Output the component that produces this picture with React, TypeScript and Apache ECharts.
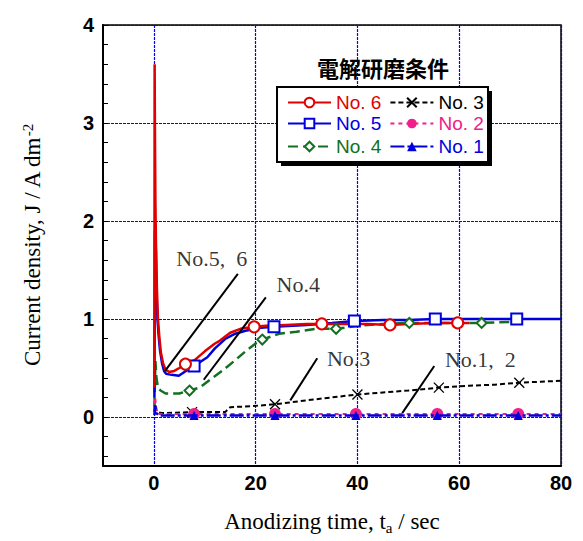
import React, { useEffect, useRef } from 'react';
import * as echarts from 'echarts';

// ---- data (t [s], J [A/dm2]) ----
const no6Line: number[][] = [
  [0.1, 0.3], [0.15, 3.6], [0.2, 3.0], [0.3, 2.2], [0.4, 1.8], [0.6, 1.3], [0.8, 1.0], [1.1, 0.8],
  [1.4, 0.65], [1.8, 0.55], [2.3, 0.48], [3.0, 0.46], [4.0, 0.47], [5.0, 0.5], [8, 0.58],
  [10, 0.67], [12, 0.75], [13, 0.78], [15, 0.86], [17, 0.9], [22, 0.93], [26, 0.94],
  [30, 0.95], [38, 0.95], [42, 0.95], [50, 0.95], [55, 0.96], [62, 0.96],
];
const no6Marks: number[][] = [[6.2, 0.54], [19.7, 0.92], [33, 0.95], [46.4, 0.94], [59.7, 0.96]];

const no5Line: number[][] = [
  [0.1, 0.2], [0.2, 1.9], [0.3, 1.45], [0.4, 1.7], [0.5, 1.3], [0.7, 1.0], [0.9, 0.85], [1.2, 0.68],
  [1.6, 0.55], [2.0, 0.47], [2.4, 0.44], [3.5, 0.43], [4.9, 0.42], [6.0, 0.46], [10.5, 0.61],
  [12, 0.7], [14.1, 0.8], [16, 0.85], [18, 0.88], [21, 0.91], [30, 0.94], [35, 0.96],
  [45, 0.99], [50, 0.99], [62, 1.0], [68, 1.0], [75, 1.0], [80, 1.0],
];
const no5Marks: number[][] = [[7.9, 0.52], [23.6, 0.92], [39.4, 0.98], [55.3, 1.0], [71.3, 1.0]];

const no4Line: number[][] = [
  [0.1, 0.1], [0.3, 0.57], [0.5, 0.4], [0.8, 0.3], [1.3, 0.27], [2.3, 0.24], [5, 0.24],
  [9, 0.3], [11, 0.38], [13.4, 0.47], [16, 0.58], [18, 0.67], [20, 0.75], [24.6, 0.85],
  [28, 0.87], [32, 0.9], [40, 0.93], [45, 0.95], [55, 0.96], [60, 0.96], [70, 0.97], [71.5, 0.97],
];
const no4Marks: number[][] = [[7, 0.27], [21.3, 0.79], [35.8, 0.9], [50.2, 0.96], [64.4, 0.96]];

const no3Line: number[][] = [
  [0.1, 0.05], [0.2, 0.16], [0.35, 0.1], [0.6, 0.05], [1.5, 0.04], [14, 0.05], [15, 0.1],
  [19, 0.11], [30, 0.17], [35, 0.2], [45, 0.25], [50, 0.27], [62, 0.32], [67, 0.33],
  [76, 0.36], [80, 0.37],
];
const no3Marks: number[][] = [[7.5, 0.05], [23.8, 0.13], [40, 0.23], [56, 0.3], [71.8, 0.35]];

const no2Line: number[][] = [
  [0.1, 0.05], [0.25, 0.2], [0.5, 0.08], [0.9, 0.03], [15, 0.03], [30, 0.03], [48, 0.03],
  [64, 0.03], [80, 0.03],
];
const no2Marks: number[][] = [[7.9, 0.03], [23.8, 0.03], [39.7, 0.03], [55.7, 0.03], [71.6, 0.03]];

const no1Line: number[][] = [
  [0.1, 0.02], [0.25, 0.12], [0.5, 0.04], [1.0, 0.015], [15, 0.015], [30, 0.015], [48, 0.015],
  [64, 0.015], [80, 0.015],
];
const no1Marks: number[][] = [[7.9, 0.015], [23.8, 0.015], [39.7, 0.015], [55.7, 0.015], [71.6, 0.015]];

const xLabelValues = [0, 20, 40, 60, 80];
const yLabelValues = [0, 1, 2, 3, 4];
const yTickValues = [
  -0.4, -0.2, 0, 0.2, 0.4, 0.6, 0.8, 1, 1.2, 1.4, 1.6, 1.8, 2, 2.2, 2.4, 2.6, 2.8, 3, 3.2,
  3.4, 3.6, 3.8, 4,
];

// legend rows (two entries each)
const legendRows: string[][] = [
  ['No. 6', 'No. 3'],
  ['No. 5', 'No. 2'],
  ['No. 4', 'No. 1'],
];

// annotations: [t, J, text]
const annotTexts: (number | string)[][] = [
  [4.3, 1.62, 'No.5,\u00a0\u00a06'],
  [24.0, 1.35, 'No.4'],
  [33.9, 0.6, 'No.3'],
  [57.1, 0.59, 'No.1,\u00a0\u00a02'],
];
const annotLines: number[][][] = [
  [[2.2, 0.47], [16.5, 1.46]],
  [[9.8, 0.38], [22.0, 1.22]],
  [[26.8, 0.17], [32.1, 0.6]],
  [[48.8, 0.04], [55.1, 0.52]],
];

const RED = '#e00000';
const BLUE = '#0000dd';
const GREEN = '#137020';
const BLACK = '#000000';
const PINK = '#f0208a';
const GRIDBLUE = '#0000ff';
const CLEAR = 'rgba(0,0,0,0)';

const nameColor: Record<string, string> = {
  'No. 6': RED, 'No. 5': BLUE, 'No. 4': GREEN, 'No. 3': BLACK, 'No. 2': PINK, 'No. 1': BLUE,
};

function build(line: number[][], marks: number[][]) {
  const pts: any[] = [
    ...line.map((p) => ({ value: p, symbol: 'none' })),
    ...marks.map((p) => ({ value: p })),
  ];
  pts.sort((a, b) => a.value[0] - b.value[0]);
  return pts;
}

const CROSS = 'path://M0,0L10,10M10,0L0,10';

export default function App() {
  const ref = useRef<HTMLDivElement>(null);
  useEffect(() => {
    const chart = echarts.init(ref.current!, null, { renderer: 'svg' });
    const tickFont = { fontFamily: 'Liberation Sans', fontWeight: 'bold' as const, fontSize: 20, color: '#000' };
    const legendTops = [93, 114, 137];
    const hiddenAxisParts = {
      axisLine: { show: false }, axisTick: { show: false }, axisLabel: { show: false },
    };
    const gridStyle = { color: [CLEAR, GRIDBLUE], type: [3, 1], width: 1.2 };
    const option: any = {
      animation: false,
      grid: { left: 103, right: 22, top: 25, bottom: 75, show: true, borderColor: '#000', borderWidth: 1.5, backgroundColor: '#fff' },
      xAxis: [
        {
          type: 'value', min: -10, max: 80,
          axisLine: { show: true, onZero: false, lineStyle: { color: '#000', width: 2 } },
          axisTick: { show: false },
          splitLine: { show: false },
          axisLabel: { ...tickFont, margin: 7, customValues: xLabelValues },
          name: 'Anodizing time, t{sub|a} / sec',
          nameLocation: 'middle', nameGap: 42,
          nameTextStyle: {
            fontFamily: 'Liberation Serif', fontSize: 23, color: '#000',
            rich: { sub: { fontFamily: 'Liberation Serif', fontSize: 15, verticalAlign: 'bottom', padding: [12, 0, 0, 0] } },
          },
          z: 5,
        },
        {
          type: 'value', min: -10, max: 80, interval: 10, position: 'bottom',
          ...hiddenAxisParts,
          splitLine: { show: true, lineStyle: gridStyle },
        },
      ],
      yAxis: [
        {
          type: 'value', min: -0.5, max: 4,
          axisLine: { show: true, onZero: false, lineStyle: { color: '#000', width: 2 } },
          axisTick: { show: true, inside: true, length: 5, lineStyle: { color: '#000', width: 1 }, customValues: yTickValues },
          splitLine: { show: false },
          axisLabel: { ...tickFont, margin: 9, customValues: yLabelValues },
          name: 'Current density, J / A dm{sup|-2}',
          nameLocation: 'middle', nameGap: 58,
          nameTextStyle: {
            fontFamily: 'Liberation Serif', fontSize: 23, color: '#000',
            rich: { sup: { fontFamily: 'Liberation Serif', fontSize: 15, verticalAlign: 'top', padding: [0, 0, 10, 0] } },
          },
          z: 5,
        },
        {
          type: 'value', min: -0.5, max: 4, interval: 0.5, position: 'left',
          ...hiddenAxisParts,
          splitLine: { show: true, lineStyle: gridStyle },
        },
      ],
      legend: legendRows.map((row, i) => ({
        left: 287, top: legendTops[i],
        orient: 'horizontal',
        padding: 0,
        itemWidth: 43, itemHeight: 12, itemGap: 8,
        textStyle: { fontFamily: 'Liberation Sans', fontSize: 19 },
        selectedMode: false,
        data: row.map((n) => ({ name: n, textStyle: { color: nameColor[n] } })),
        z: 10,
      })),
      graphic: [
        {
          type: 'rect', z: 8, silent: true,
          shape: { x: 281, y: 91, width: 211, height: 75 },
          style: { fill: '#000' },
        },
        {
          type: 'rect', z: 8, silent: true,
          shape: { x: 277, y: 87, width: 211, height: 75 },
          style: { fill: '#fff', stroke: '#000', lineWidth: 2 },
        },
        {
          type: 'text', x: 383, y: 67, z: 20,
          style: { text: '電解研磨条件', font: 'bold 22px "Noto Sans CJK JP"', fill: '#000', align: 'center', verticalAlign: 'middle' },
        },
      ],
      series: [
        {
          type: 'line', name: 'No. 3', data: build(no3Line, no3Marks), z: 3,
          symbol: CROSS, symbolSize: 10, showAllSymbol: true,
          itemStyle: { color: CLEAR, borderColor: BLACK, borderWidth: 1.3 },
          lineStyle: { color: BLACK, width: 2, type: [5, 3] },
        },
        {
          type: 'line', name: 'No. 4', data: build(no4Line, no4Marks), z: 3,
          symbol: 'emptyDiamond', symbolSize: 10, showAllSymbol: true,
          itemStyle: { color: GREEN, borderWidth: 1.3 },
          lineStyle: { color: GREEN, width: 2.5, type: [10, 5] },
        },
        {
          type: 'line', name: 'No. 5', data: build(no5Line, no5Marks), z: 3,
          symbol: 'emptyRect', symbolSize: 11, showAllSymbol: true,
          itemStyle: { color: BLUE, borderWidth: 1.3 },
          lineStyle: { color: BLUE, width: 2.5 },
        },
        {
          type: 'line', name: 'No. 6', data: build(no6Line, no6Marks), z: 3,
          symbol: 'emptyCircle', symbolSize: 11, showAllSymbol: true,
          itemStyle: { color: RED, borderWidth: 1.3 },
          lineStyle: { color: RED, width: 2.5 },
        },
        {
          type: 'line', name: 'No. 2', data: build(no2Line, no2Marks), z: 3,
          symbol: 'circle', symbolSize: 12, showAllSymbol: true,
          itemStyle: { color: PINK },
          lineStyle: { color: PINK, width: 2, type: [4, 4] },
        },
        {
          type: 'line', name: 'No. 1', data: build(no1Line, no1Marks), z: 4,
          symbol: 'triangle', symbolSize: 9, showAllSymbol: true,
          itemStyle: { color: BLUE },
          lineStyle: { color: BLUE, width: 2.5, type: [14, 3, 3, 3] },
        },
        {
          type: 'scatter', name: 'annot', z: 6, silent: true, symbolSize: 1,
          itemStyle: { color: CLEAR },
          data: annotTexts,
          label: {
            show: true, position: 'right', distance: 0,
            formatter: (p: any) => p.data[2],
            fontFamily: 'Liberation Serif', fontSize: 22, color: '#000',
          },
          markLine: {
            silent: true, symbol: ['none', 'none'], label: { show: false },
            lineStyle: { color: '#000', type: 'solid', width: 2 },
            data: annotLines.map((l) => [{ coord: l[0] }, { coord: l[1] }]),
          },
        },
      ],
    };
    chart.setOption(option);
    return () => chart.dispose();
  }, []);
  return <div ref={ref} style={{ position: 'absolute', left: 0, top: 0, width: 583, height: 541 }} />;
}
